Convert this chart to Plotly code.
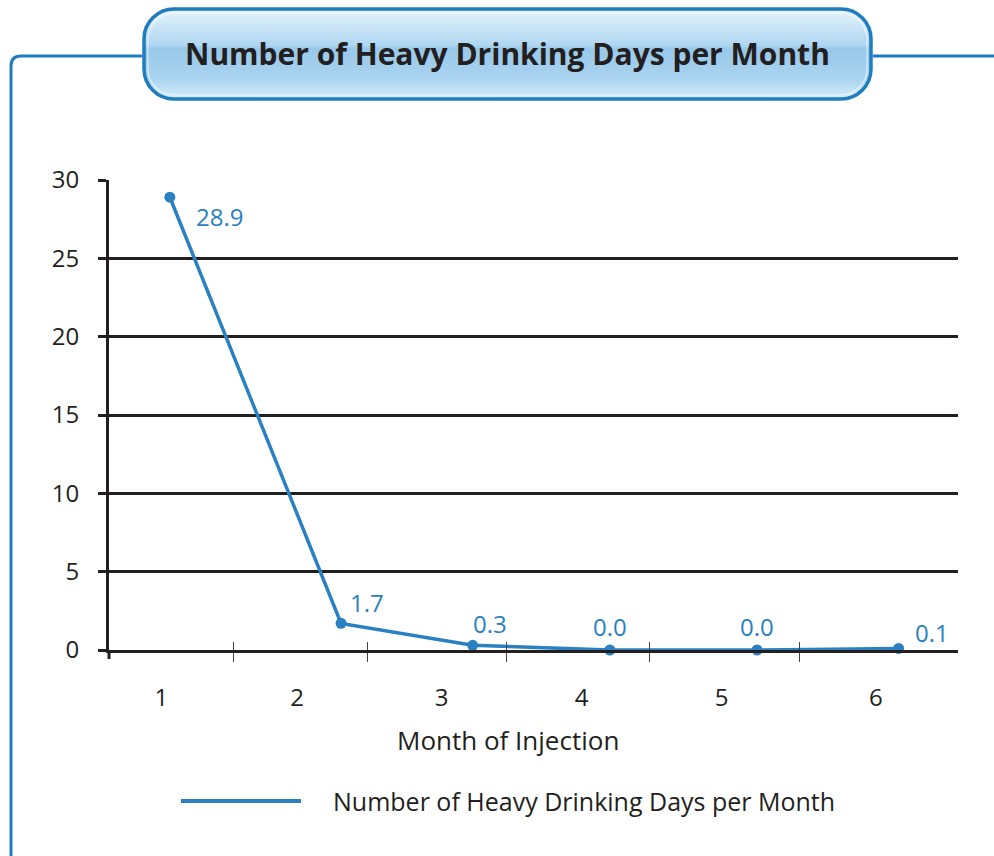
import base64
import plotly.graph_objects as go

# ---- data ----
month_labels = ["1", "2", "3", "4", "5", "6"]
label_pos = [1.0, 1.96, 2.98, 3.97, 4.96, 6.05]     # where each month label sits on the x scale
bin_edges = [1.51, 2.46, 3.44, 4.45, 5.51]          # small divider ticks between months
point_x = [1.06, 2.27, 3.20, 4.17, 5.21, 6.21]      # plotted x of each point (as drawn)
heavy_days = [28.9, 1.7, 0.3, 0.0, 0.0, 0.1]
value_text = ["28.9", "1.7", "0.3", "0.0", "0.0", "0.1"]
series_name = "Number of Heavy Drinking Days per Month"
title_text = "Number of Heavy Drinking Days per Month"
x_title = "Month of Injection"
y_ticks = [0, 5, 10, 15, 20, 25, 30]

# ---- styling ----
W, H = 994, 856
L, R, T, B = 109, 36, 180, 206
PW, PH = W - L - R, H - T - B
BLUE = "#2a80c0"
FRAME = "#1f7dbd"
INK = "#231f20"
FONT = "Open Sans"
label_shift = [(50, -19), (26, 21), (17, 22), (0, 24), (0, 24), (33, 16)]


def px(x):
    return (x - L) / PW


def py(y):
    return (H - B - y) / PH


fig = go.Figure()
fig.add_trace(go.Scatter(
    x=point_x, y=heavy_days, name=series_name, mode="lines+markers",
    line=dict(color=BLUE, width=3.5), marker=dict(color=BLUE, size=11),
    showlegend=False, cliponaxis=False, hoverinfo="y",
))

annotations = []
for xv, yv, t, (dx, dy) in zip(point_x, heavy_days, value_text, label_shift):
    annotations.append(dict(x=xv, y=yv, xref="x", yref="y", text=t, showarrow=False,
                            xshift=dx, yshift=dy, font=dict(family=FONT, size=24, color=BLUE)))

# axis title
annotations.append(dict(x=px(508), y=py(740), xref="paper", yref="paper", text=x_title,
                        showarrow=False, xanchor="center", yanchor="middle",
                        font=dict(family=FONT, size=26, color=INK)))
# legend text
annotations.append(dict(x=px(331), y=py(801), xref="paper", yref="paper", text=series_name,
                        showarrow=False, xanchor="left", yanchor="middle",
                        font=dict(family=FONT, size=25, color=INK)))
# title text
annotations.append(dict(x=px(507.5), y=py(53), xref="paper", yref="paper",
                        text="<b>" + title_text + "</b>",
                        showarrow=False, xanchor="center", yanchor="middle",
                        font=dict(family=FONT, size=30, color=INK)))

shapes = [
    # legend swatch
    dict(type="line", xref="paper", yref="paper", x0=px(181), x1=px(301), y0=py(801), y1=py(801),
         line=dict(color=BLUE, width=4)),
    # outer frame: left part with rounded corner
    dict(type="path", xref="paper", yref="paper",
         path=f"M {px(11)},{py(860)} L {px(11)},{py(66)} Q {px(11)},{py(56)} {px(21)},{py(56)} L {px(142)},{py(56)}",
         line=dict(color=FRAME, width=3)),
    dict(type="line", xref="paper", yref="paper", x0=px(873), x1=px(1000), y0=py(56), y1=py(56),
         line=dict(color=FRAME, width=3)),
    # y-axis line small extension under the baseline
    dict(type="line", xref="paper", yref="paper", x0=0, x1=0, y0=0, y1=py(659),
         line=dict(color=INK, width=3)),
]

svg = (
    "<svg xmlns='http://www.w3.org/2000/svg' width='731' height='94' viewBox='0 0 731 94' "
    "preserveAspectRatio='none'><defs><linearGradient id='g' x1='0' y1='0' x2='0' y2='1'>"
    "<stop offset='0' stop-color='#e6f3fb'/><stop offset='0.40' stop-color='#b0d7f2'/>"
    "<stop offset='0.44' stop-color='#98c8ea'/><stop offset='0.78' stop-color='#aad4f0'/>"
    "<stop offset='1' stop-color='#d6edfa'/></linearGradient></defs>"
    "<rect x='2' y='2' width='727' height='90' rx='30' ry='30' fill='url(#g)' "
    "stroke='#1f7dbd' stroke-width='3.5'/>"
    "<rect x='6' y='6' width='719' height='82' rx='26' ry='26' fill='none' "
    "stroke='#ffffff' stroke-opacity='0.5' stroke-width='1.5'/></svg>"
)
src = "data:image/svg+xml;base64," + base64.b64encode(svg.encode()).decode()

fig.update_layout(
    width=W, height=H, autosize=False,
    margin=dict(l=L, r=R, t=T, b=B, pad=0),
    paper_bgcolor="white", plot_bgcolor="white",
    showlegend=False,
    font=dict(family=FONT, color=INK),
    annotations=annotations,
    shapes=shapes,
    images=[dict(source=src, xref="paper", yref="paper", x=px(142), y=py(7),
                 sizex=731 / PW, sizey=94 / PH, xanchor="left", yanchor="top",
                 sizing="stretch", layer="above")],
    xaxis=dict(range=[0.63, 6.63], tickmode="array", tickvals=bin_edges,
               ticktext=[""] * len(bin_edges), ticks="outside", ticklen=9, tickwidth=1.2,
               tickcolor="#444", showline=True, linecolor=INK, linewidth=3,
               showgrid=False, zeroline=False, fixedrange=True),
    xaxis2=dict(range=[0.63, 6.63], overlaying="x", anchor="y", side="bottom",
                tickmode="array", tickvals=label_pos, ticktext=month_labels,
                ticks="", showline=False, showgrid=False, zeroline=False,
                ticklabelstandoff=31, tickfont=dict(family=FONT, size=24, color=INK)),
    xaxis3=dict(range=[0.63, 6.63], overlaying="x", anchor="y", side="bottom",
                tickmode="array", tickvals=bin_edges, ticktext=[""] * len(bin_edges),
                ticks="inside", ticklen=8, tickwidth=1.2, tickcolor="#444",
                showline=False, showgrid=False, zeroline=False),
    yaxis=dict(range=[0, 30], tickmode="array", tickvals=y_ticks,
               ticks="outside", ticklen=8, tickwidth=2.5, tickcolor=INK,
               showgrid=True, gridcolor=INK, gridwidth=2.5,
               showline=True, linecolor=INK, linewidth=3, zeroline=False,
               ticklabelstandoff=14, tickfont=dict(family=FONT, size=24, color=INK),
               fixedrange=True),
)
# invisible anchors so the overlay axes are drawn
fig.add_trace(go.Scatter(x=[1], y=[0], xaxis="x2", mode="markers", opacity=0,
                         showlegend=False, hoverinfo="skip"))
fig.add_trace(go.Scatter(x=[1], y=[0], xaxis="x3", mode="markers", opacity=0,
                         showlegend=False, hoverinfo="skip"))

fig.write_html("out.html", config={"displayModeBar": False},
               post_script="document.body.style.margin='0';")
